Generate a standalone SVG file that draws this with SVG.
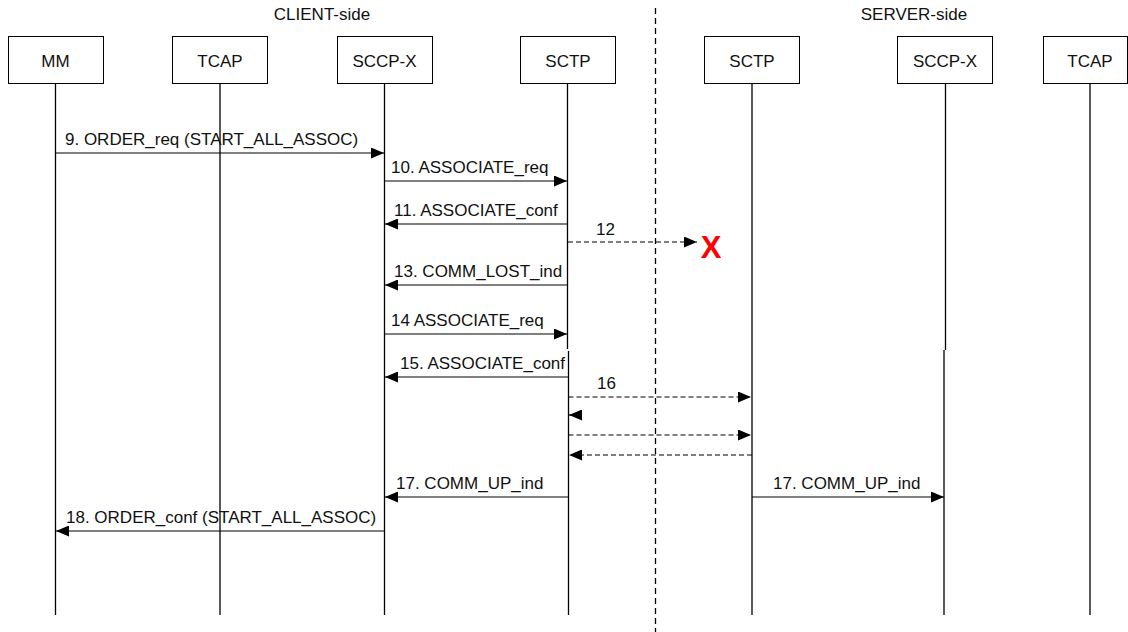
<svg xmlns="http://www.w3.org/2000/svg" width="1128" height="632" viewBox="0 0 1128 632">
<style>
  text { font-family: "Liberation Sans", Arial, sans-serif; font-size: 17px; fill: #111; }
  .box { fill: #fff; stroke: #000; stroke-width: 1; }
  .life { stroke: #000; stroke-width: 1.3; fill: none; }
  .msg { stroke: #000; stroke-width: 1.2; fill: none; }
  .dash { stroke: #000; stroke-width: 1.2; fill: none; stroke-dasharray: 5 3; }
  .c { text-anchor: middle; }
</style>
<defs>
  <marker id="ah" viewBox="0 0 13 11" refX="13" refY="5.5" markerWidth="13" markerHeight="11" markerUnits="userSpaceOnUse" orient="auto">
    <path d="M0,0 L13,5.5 L0,11 Z" fill="#000"/>
  </marker>
</defs>
<rect width="1128" height="632" fill="#fff"/>
<text x="322" y="20" class="c">CLIENT-side</text>
<text x="914" y="20" class="c">SERVER-side</text>
<line x1="655.5" y1="8" x2="655.5" y2="632" stroke="#000" stroke-width="1.3" stroke-dasharray="6 4"/>

<g id="node-mm"><rect class="box" x="8.5" y="36.5" width="95" height="47"/><text x="55.5" y="67" class="c">MM</text><line class="life" x1="55.5" y1="84" x2="55.5" y2="615"/></g>
<g id="node-tcap-c"><rect class="box" x="172.5" y="36.5" width="95" height="47"/><text x="220" y="67" class="c">TCAP</text><line class="life" x1="220" y1="84" x2="220" y2="615"/></g>
<g id="node-sccp-c"><rect class="box" x="337.5" y="36.5" width="95" height="47"/><text x="384.5" y="67" class="c">SCCP-X</text><line class="life" x1="384.5" y1="84" x2="384.5" y2="615"/></g>
<g id="node-sctp-c"><rect class="box" x="520.5" y="36.5" width="95" height="47"/><text x="568" y="67" class="c">SCTP</text><line class="life" x1="567.5" y1="84" x2="567.5" y2="349"/><line class="life" x1="568.5" y1="351" x2="568.5" y2="615"/></g>
<g id="node-sctp-s"><rect class="box" x="704.5" y="36.5" width="95" height="47"/><text x="752" y="67" class="c">SCTP</text><line class="life" x1="752" y1="84" x2="752" y2="615"/></g>
<g id="node-sccp-s"><rect class="box" x="897.5" y="36.5" width="95" height="47"/><text x="945" y="67" class="c">SCCP-X</text><line class="life" x1="945.5" y1="84" x2="945.5" y2="350"/><line class="life" x1="944" y1="350" x2="944" y2="615"/></g>
<g id="node-tcap-s"><rect class="box" x="1043.5" y="36.5" width="84" height="47"/><text x="1090" y="67" class="c">TCAP</text><line class="life" x1="1090" y1="84" x2="1090" y2="615"/></g>

<g id="connectors">
  <line class="msg" x1="55.5" y1="153" x2="384" y2="153" marker-end="url(#ah)"/>
  <text x="65" y="145">9. ORDER_req (START_ALL_ASSOC)</text>

  <line class="msg" x1="384.5" y1="181" x2="567" y2="181" marker-end="url(#ah)"/>
  <text x="391" y="173">10. ASSOCIATE_req</text>

  <line class="msg" x1="567.5" y1="224" x2="385" y2="224" marker-end="url(#ah)"/>
  <text x="394" y="216">11. ASSOCIATE_conf</text>

  <line class="dash" x1="568" y1="242" x2="697" y2="242" marker-end="url(#ah)"/>
  <text x="596" y="235">12</text>
  <text x="711" y="258" class="c" style="font-size:31px;font-weight:bold;fill:#ff0000">X</text>

  <line class="msg" x1="567.5" y1="285" x2="385" y2="285" marker-end="url(#ah)"/>
  <text x="394" y="277">13. COMM_LOST_ind</text>

  <line class="msg" x1="384.5" y1="334" x2="567" y2="334" marker-end="url(#ah)"/>
  <text x="391" y="326">14 ASSOCIATE_req</text>

  <line class="msg" x1="568" y1="377" x2="385" y2="377" marker-end="url(#ah)"/>
  <text x="400" y="369">15. ASSOCIATE_conf</text>

  <line class="dash" x1="568.5" y1="397" x2="751" y2="397" marker-end="url(#ah)"/>
  <text x="597" y="389">16</text>

  <line class="msg" x1="581.5" y1="415" x2="569" y2="415" marker-end="url(#ah)"/>

  <line class="dash" x1="568.5" y1="435" x2="751" y2="435" marker-end="url(#ah)"/>

  <line class="dash" x1="752" y1="455" x2="569" y2="455" marker-end="url(#ah)"/>

  <line class="msg" x1="568.5" y1="497" x2="385" y2="497" marker-end="url(#ah)"/>
  <text x="396" y="489">17. COMM_UP_ind</text>

  <line class="msg" x1="752" y1="497" x2="944" y2="497" marker-end="url(#ah)"/>
  <text x="773" y="489">17. COMM_UP_ind</text>

  <line class="msg" x1="384.5" y1="531" x2="56" y2="531" marker-end="url(#ah)"/>
  <text x="66" y="523">18. ORDER_conf (START_ALL_ASSOC)</text>
</g>
</svg>
